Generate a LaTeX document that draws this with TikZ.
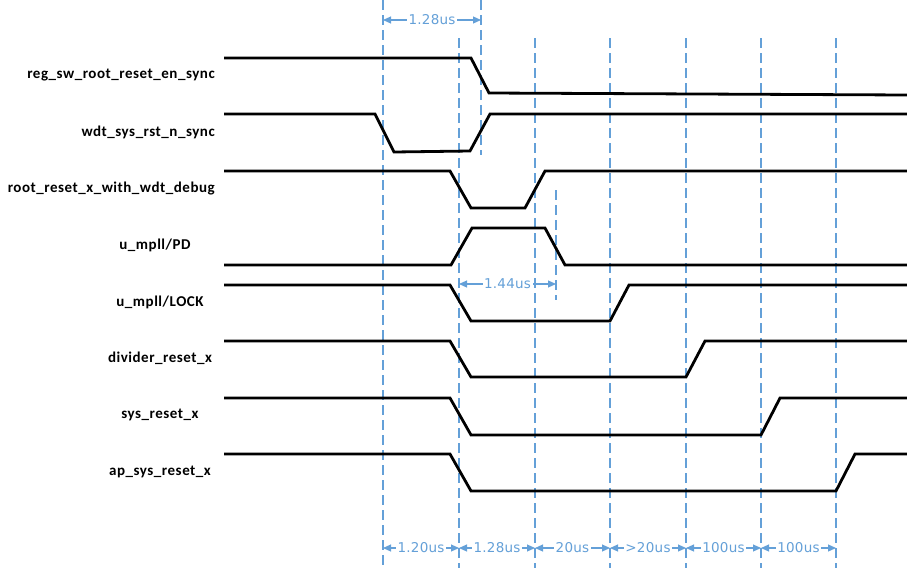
\documentclass[tikz,border=0pt]{standalone}
\usepackage{fontspec}
\setmainfont{Carlito}
\newfontfamily\lblfont[LetterSpace=3.5]{Carlito}
\newfontfamily\dimfont[LetterSpace=2]{DejaVu Sans}
\usetikzlibrary{positioning,arrows.meta,calc}
\definecolor{gridblue}{RGB}{100,160,216}

\begin{document}
\begin{tikzpicture}[x=1pt,y=-1pt,
    sig/.style={line width=2.8pt,black},
    lbl/.style={font=\lblfont\fontsize{15}{17}\selectfont\bfseries,inner sep=0pt},
    grid/.style={gridblue,line width=1.2pt,dash pattern=on 10pt off 5pt},
    dim/.style={{Triangle[length=8pt,width=7pt]}-{Triangle[length=8pt,width=7pt]},
                gridblue,line width=1.1pt},
    dimlbl/.style={fill=white,inner sep=1.5pt,text=gridblue,
                   font=\dimfont\fontsize{13.5}{15}\selectfont}]
  \useasboundingbox (0,0) rectangle (907,568);

  % signal names
  \node[lbl,anchor=east] (reg)  at (215,75)  {reg\_sw\_root\_reset\_en\_sync};
  \node[lbl,anchor=east] (wdt)  at (215,132) {wdt\_sys\_rst\_n\_sync};
  \node[lbl,anchor=east] (root) at (215,189) {root\_reset\_x\_with\_wdt\_debug};
  \node[lbl] (pd)   at (155,245) {u\_mpll/PD};
  \node[lbl] (lock) at (160,302) {u\_mpll/LOCK};
  \node[lbl] (div)  at (160,358) {divider\_reset\_x};
  \node[lbl] (sys)  at (160,415) {sys\_reset\_x};
  \node[lbl] (ap)   at (160,472) {ap\_sys\_reset\_x};

  % time grid
  \draw[grid] (383,0) -- (383,568);
  \foreach \x in {459,535,610,686,761,836}
    \draw[grid] (\x,38) -- (\x,568);
  \draw[grid] (481,0) -- (481,155);
  \draw[grid] (556,190) -- (556,300);

  % waveforms
  \draw[sig] (224,58) -- (471,58) -- (489,93) -- (907,95);
  \draw[sig] (224,114) -- (375,114) -- (394,152) -- (470,151) -- (490,114) -- (907,114);
  \draw[sig] (224,171) -- (450,171) -- (471,208) -- (525,208) -- (545,171) -- (907,171);
  \draw[sig] (224,265) -- (451,265) -- (472,228) -- (545,228) -- (565,265) -- (907,265);
  \draw[sig] (224,285) -- (450,285) -- (471,321) -- (610,321) -- (629,285) -- (907,285);
  \draw[sig] (224,341) -- (450,341) -- (471,377) -- (686,377) -- (705,341) -- (907,341);
  \draw[sig] (224,398) -- (450,398) -- (471,435) -- (761,435) -- (780,398) -- (907,398);
  \draw[sig] (224,454) -- (450,454) -- (471,491) -- (836,491) -- (855,454) -- (907,454);

  % intervals
  \coordinate (a0) at (383,20);  \coordinate (a1) at (481,20);
  \coordinate (m0) at (459,284); \coordinate (m1) at (556,284);
  \foreach \x [count=\i from 0] in {383,459,535,610,686,761,836}
    \coordinate (t\i) at (\x,548);
  \draw[dim] (a0) -- node[dimlbl] (d128) {1.28us} (a1);
  \draw[dim] (m0) -- node[dimlbl] (d144) {1.44us} (m1);
  \draw[dim] (t0) -- node[dimlbl] (b1) {1.20us} (t1);
  \draw[dim] (t1) -- node[dimlbl] (b2) {1.28us} (t2);
  \draw[dim] (t2) -- node[dimlbl] (b3) {20us} (t3);
  \draw[dim] (t3) -- node[dimlbl] (b4) {>20us} (t4);
  \draw[dim] (t4) -- node[dimlbl] (b5) {100us} (t5);
  \draw[dim] (t5) -- node[dimlbl] (b6) {100us} (t6);
\end{tikzpicture}
\end{document}
